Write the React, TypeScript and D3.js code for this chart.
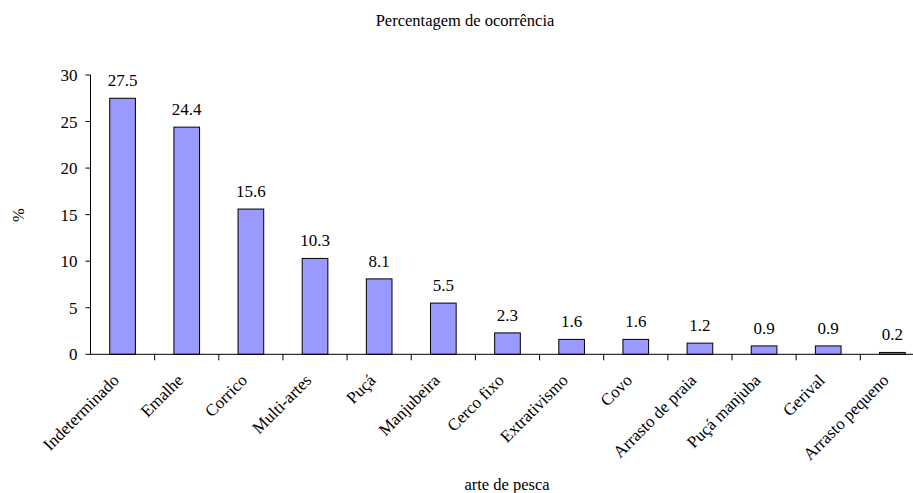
import React from "react";
import * as d3 from "d3";

const categories = [
  "Indeterminado", "Emalhe", "Corrico", "Multi-artes", "Puçá", "Manjubeira",
  "Cerco fixo", "Extrativismo", "Covo", "Arrasto de praia", "Puçá manjuba",
  "Gerival", "Arrasto pequeno",
];
const values = [27.5, 24.4, 15.6, 10.3, 8.1, 5.5, 2.3, 1.6, 1.6, 1.2, 0.9, 0.9, 0.2];
const yTicks = [0, 5, 10, 15, 20, 25, 30];
const title = "Percentagem de ocorrência";
const xTitle = "arte de pesca";
const yTitle = "%";

const W = 913;
const H = 493;
const left = 90.5;
const step = 64.15;
const FONT = "Liberation Serif, Tinos, DejaVu Serif, Times New Roman, serif";

export default function App() {
  const x = d3
    .scaleBand<string>()
    .domain(categories)
    .range([left, left + step * categories.length])
    .paddingInner(0.6)
    .paddingOuter(0.3);
  const y = d3.scaleLinear().domain([0, 30]).range([354.3, 75]);
  const y0 = y(0);
  const right = left + step * categories.length;
  const ts = { fontFamily: FONT } as React.CSSProperties;

  return (
    <svg
      width={W}
      height={H}
      style={{ position: "fixed", top: 0, left: 0, display: "block", background: "#fff", fontFamily: FONT }}
    >
      <rect x={0} y={0} width={W} height={H} fill="#fff" />
      <text x={465} y={26} textAnchor="middle" fontSize={16.5} style={ts}>
        {title}
      </text>
      <line x1={left} x2={left} y1={y(30)} y2={y0} stroke="#000" />
      {yTicks.map((t) => (
        <g key={t}>
          <line x1={left - 5} x2={left} y1={y(t)} y2={y(t)} stroke="#000" />
          <text x={left - 13} y={y(t)} dy="0.35em" textAnchor="end" fontSize={17} style={ts}>
            {t}
          </text>
        </g>
      ))}
      {categories.map((c, i) => (
        <g key={c}>
          <rect
            x={x(c)!}
            y={y(values[i])}
            width={x.bandwidth()}
            height={y0 - y(values[i])}
            fill="#9999FF"
            stroke="#000"
            strokeWidth={1}
          />
          <text
            x={x(c)! + x.bandwidth() / 2}
            y={y(values[i]) - 12}
            textAnchor="middle"
            fontSize={17}
            style={ts}
          >
            {values[i].toFixed(1)}
          </text>
        </g>
      ))}
      <line x1={left} x2={right} y1={y0} y2={y0} stroke="#000" />
      {categories.map((c, i) => (
        <line
          key={"t" + i}
          x1={left + step * (i + 1)}
          x2={left + step * (i + 1)}
          y1={y0}
          y2={y0 + 6}
          stroke="#000"
        />
      ))}
      {categories.map((c) => {
        const cx = x(c)! + x.bandwidth() / 2;
        return (
          <text
            key={"l" + c}
            transform={`translate(${cx - 2.5},${y0 + 27}) rotate(-45)`}
            textAnchor="end"
            fontSize={17}
            style={ts}
          >
            {c}
          </text>
        );
      })}
      <text x={507} y={490} textAnchor="middle" fontSize={16.5} style={ts}>
        {xTitle}
      </text>
      <text
        transform={`translate(18,215) rotate(-90)`}
        textAnchor="middle"
        dy="0.35em"
        fontSize={16.5}
        style={ts}
      >
        {yTitle}
      </text>
    </svg>
  );
}
